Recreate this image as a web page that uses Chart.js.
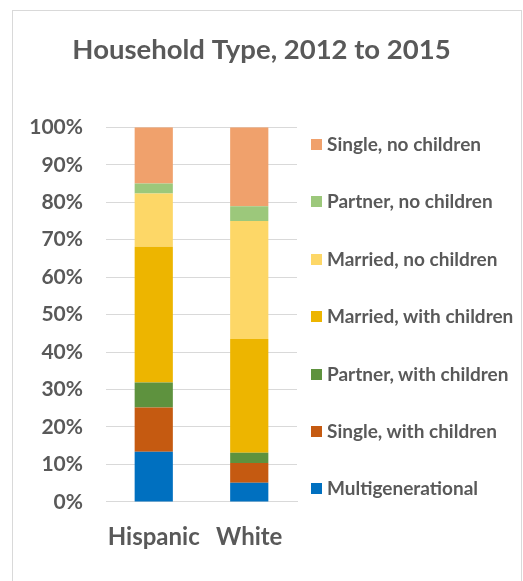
<!DOCTYPE html>
<html>
<head>
<meta charset="utf-8">
<script src="https://cdn.jsdelivr.net/npm/chart.js@4"></script>
<style>
  html, body { margin: 0; padding: 0; background: #fff; }
  #wrap { position: relative; width: 523px; height: 581px; overflow: hidden; }
  #frame { position: absolute; left: 12px; top: 10px; width: 508px; height: 600px; border: 1px solid #d9d9d9; }
  canvas { position: absolute; left: 0; top: 0; }
  #legend { position: absolute; left: 311px; top: 132px; margin: 0; padding: 0; list-style: none;
            font: bold 19px Lato, sans-serif; color: #595959; }
  #legend li { height: 57.4px; display: flex; align-items: flex-start; }
  #legend .box { width: 11px; height: 11px; margin: 7px 5px 0 0; flex: none; }
</style>
</head>
<body>
<div id="wrap">
  <div id="frame"></div>
  <canvas id="chart" width="523" height="581"></canvas>
  <ul id="legend"></ul>
</div>
<script>
// Données (en %)
const groups = ['Hispanic', 'White'];
const householdTypes = ['Multigenerational', 'Single, with children', 'Partner, with children',
    'Married, with children', 'Married, no children', 'Partner, no children', 'Single, no children'];
const multigenerational = [13.4, 5.1];
const singleWithChildren = [11.8, 5.3];
const partnerWithChildren = [6.7, 2.7];
const marriedWithChildren = [36.2, 30.4];
const marriedNoChildren = [14.2, 31.5];
const partnerNoChildren = [2.7, 3.9];
const singleNoChildren = [15.0, 21.1];
const typeColors = ['#0070C0', '#C55A11', '#5E923E', '#EDB500', '#FDD767', '#9CC87B', '#F0A16C'];

const seriesValues = [multigenerational, singleWithChildren, partnerWithChildren,
    marriedWithChildren, marriedNoChildren, partnerNoChildren, singleNoChildren];

const textColor = '#595959';
const gridColor = '#d9d9d9';

const datasets = householdTypes.map((label, i) => ({
    label: label,
    data: seriesValues[i],
    backgroundColor: typeColors[i],
    borderWidth: 0,
    categoryPercentage: 1,
    barPercentage: 0.4
}));

const chart = new Chart(document.getElementById('chart'), {
    type: 'bar',
    data: { labels: groups, datasets: datasets },
    options: {
        responsive: false,
        animation: false,
        layout: { padding: { left: 0, right: 0, top: 0, bottom: 8.3 } },
        plugins: {
            legend: { display: false },
            tooltip: { enabled: false },
            title: {
                display: true,
                text: 'Household Type, 2012 to 2015',
                color: textColor,
                font: { family: 'Lato', size: 27.5, weight: 'bold' },
                padding: { top: 33.5, bottom: 60.8 }
            }
        },
        scales: {
            x: {
                stacked: true,
                grid: { display: false, drawTicks: false },
                border: { display: true, color: gridColor, width: 1 },
                ticks: {
                    color: textColor,
                    padding: 21,
                    autoSkip: false,
                    minRotation: 0,
                    maxRotation: 0,
                    font: { family: 'Lato', size: 24, weight: 'bold' }
                }
            },
            y: {
                stacked: true,
                min: 0,
                max: 100,
                grid: { color: gridColor, drawTicks: false },
                border: { display: false },
                afterFit: scale => { scale.width = 106; },
                ticks: {
                    stepSize: 10,
                    color: textColor,
                    padding: 23,
                    font: { family: 'Lato', size: 21, weight: 'bold' },
                    callback: v => v + '%'
                }
            },
            // axe vide à droite : réserve la place de la légende
            legendSpace: {
                position: 'right',
                grid: { display: false },
                border: { display: false },
                ticks: { display: false },
                afterFit: scale => { scale.width = 226; }
            }
        }
    }
});

// Légende HTML, dans l'ordre de l'empilement (du haut vers le bas)
const legend = document.getElementById('legend');
chart.data.datasets.slice().reverse().forEach(ds => {
    const li = document.createElement('li');
    const box = document.createElement('span');
    box.className = 'box';
    box.style.background = ds.backgroundColor;
    li.appendChild(box);
    li.appendChild(document.createTextNode(ds.label));
    legend.appendChild(li);
});
</script>
</body>
</html>
